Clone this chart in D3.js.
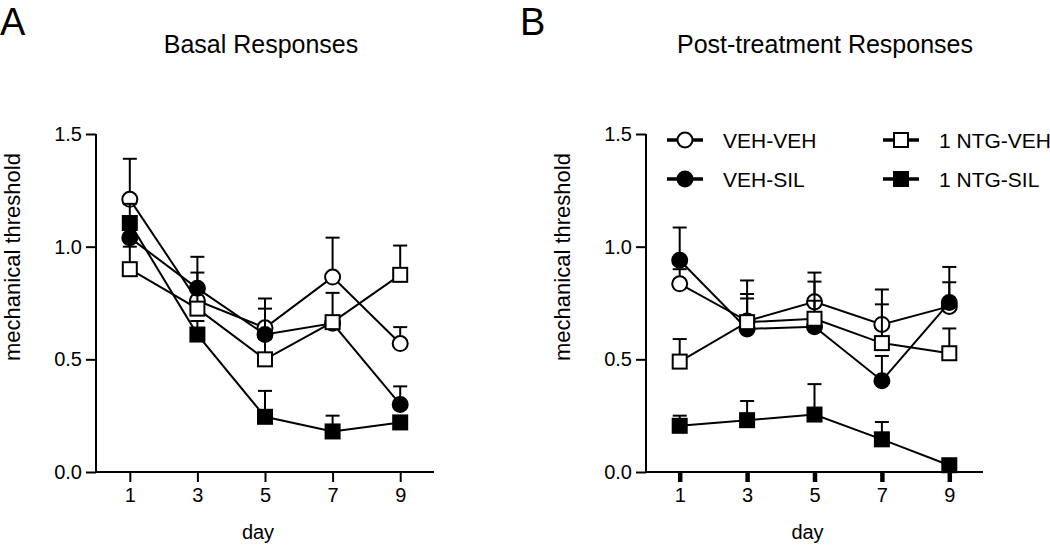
<!DOCTYPE html>
<html><head><meta charset="utf-8">
<script src="https://cdn.jsdelivr.net/npm/d3@7"></script>
<style>
html,body{margin:0;padding:0;background:#fff;}
svg text{font-family:"Liberation Sans",Arial,Helvetica,sans-serif;fill:#000;}
</style></head>
<body>
<svg id="chart" width="1050" height="545"></svg>
<script>
// ---- data ----
const days = [1, 3, 5, 7, 9];
const seriesNames = ["VEH-VEH", "VEH-SIL", "1 NTG-VEH", "1 NTG-SIL"];
const yTicks = [0, 0.5, 1.0, 1.5];

// Panel A: Basal Responses
const aVehVeh    = [1.21, 0.76, 0.64, 0.865, 0.57];
const aVehVehErr = [0.18, 0.125, 0.13, 0.175, 0.073];
const aVehSil    = [1.04, 0.815, 0.61, 0.66, 0.30];
const aVehSilErr = [0.07, 0.14, 0.115, 0.03, 0.08];
const aNtgVeh    = [0.90, 0.725, 0.50, 0.665, 0.875];
const aNtgVehErr = [0.10, 0.08, 0.09, 0.13, 0.13];
const aNtgSil    = [1.105, 0.61, 0.245, 0.18, 0.22];
const aNtgSilErr = [0.085, 0.06, 0.115, 0.07, 0.02];

// Panel B: Post-treatment Responses
const bVehVeh    = [0.835, 0.67, 0.755, 0.655, 0.735];
const bVehVehErr = [0.065, 0.12, 0.13, 0.155, 0.107];
const bVehSil    = [0.94, 0.635, 0.645, 0.405, 0.752];
const bVehSilErr = [0.145, 0.215, 0.20, 0.11, 0.158];
const bNtgVeh    = [0.49, 0.665, 0.68, 0.572, 0.527];
const bNtgVehErr = [0.10, 0.105, 0.08, 0.172, 0.11];
const bNtgSil    = [0.205, 0.23, 0.255, 0.145, 0.03];
const bNtgSilErr = [0.045, 0.085, 0.135, 0.077, 0.01];

const markerTypes = [
  {shape: "circle", fill: "#fff"},
  {shape: "circle", fill: "#000"},
  {shape: "square", fill: "#fff"},
  {shape: "square", fill: "#000"}
];

const panels = [
  {letter: "A", letterX: 0, title: "Basal Responses", titleX: 261, x0: 96, x1: 434,
   vals: [aVehVeh, aVehSil, aNtgVeh, aNtgSil], errs: [aVehVehErr, aVehSilErr, aNtgVehErr, aNtgSilErr],
   thickTicks: false, legend: false},
  {letter: "B", letterX: 520, title: "Post-treatment Responses", titleX: 825, x0: 646, x1: 983,
   vals: [bVehVeh, bVehSil, bNtgVeh, bNtgSil], errs: [bVehVehErr, bVehSilErr, bNtgVehErr, bNtgSilErr],
   thickTicks: true, legend: true}
];

const svg = d3.select("#chart");
const yTop = 134, yBot = 472;
const FONT = 20;

function drawMarker(g, type, cx, cy) {
  if (type.shape === "circle") {
    g.append("circle").attr("cx", cx).attr("cy", cy).attr("r", 7.5)
      .attr("fill", type.fill).attr("stroke", "#000").attr("stroke-width", 2);
  } else {
    g.append("rect").attr("x", cx - 7).attr("y", cy - 7).attr("width", 14).attr("height", 14)
      .attr("fill", type.fill).attr("stroke", "#000").attr("stroke-width", 2);
  }
}

panels.forEach(p => {
  const x = d3.scaleLinear().domain([0, 10]).range([p.x0, p.x1]);
  const y = d3.scaleLinear().domain([0, 1.5]).range([yBot, yTop]);
  const g = svg.append("g");

  // letter + title
  g.append("text").attr("x", p.letterX).attr("y", 35).attr("font-size", 38).text(p.letter);
  g.append("text").attr("x", p.titleX).attr("y", 53).attr("font-size", 25)
    .attr("text-anchor", "middle").text(p.title);

  // y axis
  const ya = g.append("g").attr("transform", `translate(${p.x0},0)`)
    .call(d3.axisLeft(y).tickValues(yTicks).tickFormat(d3.format(".1f")).tickSize(10).tickSizeOuter(0).tickPadding(4));
  // x axis
  const xa = g.append("g").attr("transform", `translate(0,${yBot})`)
    .call(d3.axisBottom(x).tickValues(days).tickFormat(d3.format("d")).tickSize(10).tickSizeOuter(0).tickPadding(6));
  [ya, xa].forEach(a => {
    a.attr("font-family", null).attr("font-size", null);
    a.select(".domain").attr("stroke", "#000").attr("stroke-width", 2);
    a.selectAll(".tick line").attr("stroke", "#000").attr("stroke-width", 2);
    a.selectAll(".tick text").attr("font-size", FONT).attr("fill", "#000");
  });
  ya.select(".domain").attr("d", `M0,${yBot + 1}V${yTop}`);
  xa.select(".domain").attr("d", `M${p.x0 - 1},0H${p.x1}`);
  if (p.thickTicks) xa.selectAll(".tick line").attr("stroke-width", 4.5);

  // axis labels
  g.append("text").attr("transform", `translate(${p.x0 - 76},257) rotate(-90)`)
    .attr("font-size", 22).attr("text-anchor", "middle").text("mechanical threshold");
  g.append("text").attr("x", (p.x0 + p.x1) / 2 - 7).attr("y", 539)
    .attr("font-size", FONT).attr("text-anchor", "middle").text("day");

  // series
  const line = d3.line().x(d => x(d[0])).y(d => y(d[1]));
  p.vals.forEach((vals, si) => {
    const sg = g.append("g");
    const pts = days.map((d, i) => [d, vals[i], p.errs[si][i]]);
    sg.append("path").attr("d", line(pts)).attr("fill", "none")
      .attr("stroke", "#000").attr("stroke-width", 2);
    pts.forEach(pt => {
      const cx = x(pt[0]), cy = y(pt[1]), ey = y(pt[1] + pt[2]);
      sg.append("line").attr("x1", cx).attr("x2", cx).attr("y1", cy).attr("y2", ey)
        .attr("stroke", "#000").attr("stroke-width", 2);
      sg.append("line").attr("x1", cx - 7).attr("x2", cx + 7).attr("y1", ey).attr("y2", ey)
        .attr("stroke", "#000").attr("stroke-width", 2);
    });
    pts.forEach(pt => drawMarker(sg, markerTypes[si], x(pt[0]), y(pt[1])));
  });

  // legend
  if (p.legend) {
    const lg = g.append("g");
    const pos = [[685, 140], [685, 179], [901, 140], [901, 179]];
    seriesNames.forEach((name, i) => {
      const [lx, ly] = pos[i];
      lg.append("line").attr("x1", lx - 18).attr("x2", lx + 18).attr("y1", ly).attr("y2", ly)
        .attr("stroke", "#000").attr("stroke-width", 3.5);
      drawMarker(lg, markerTypes[i], lx, ly);
      lg.append("text").attr("x", lx + 38).attr("y", ly + 7.5).attr("font-size", 21).text(name);
    });
  }
});
</script>
</body></html>
